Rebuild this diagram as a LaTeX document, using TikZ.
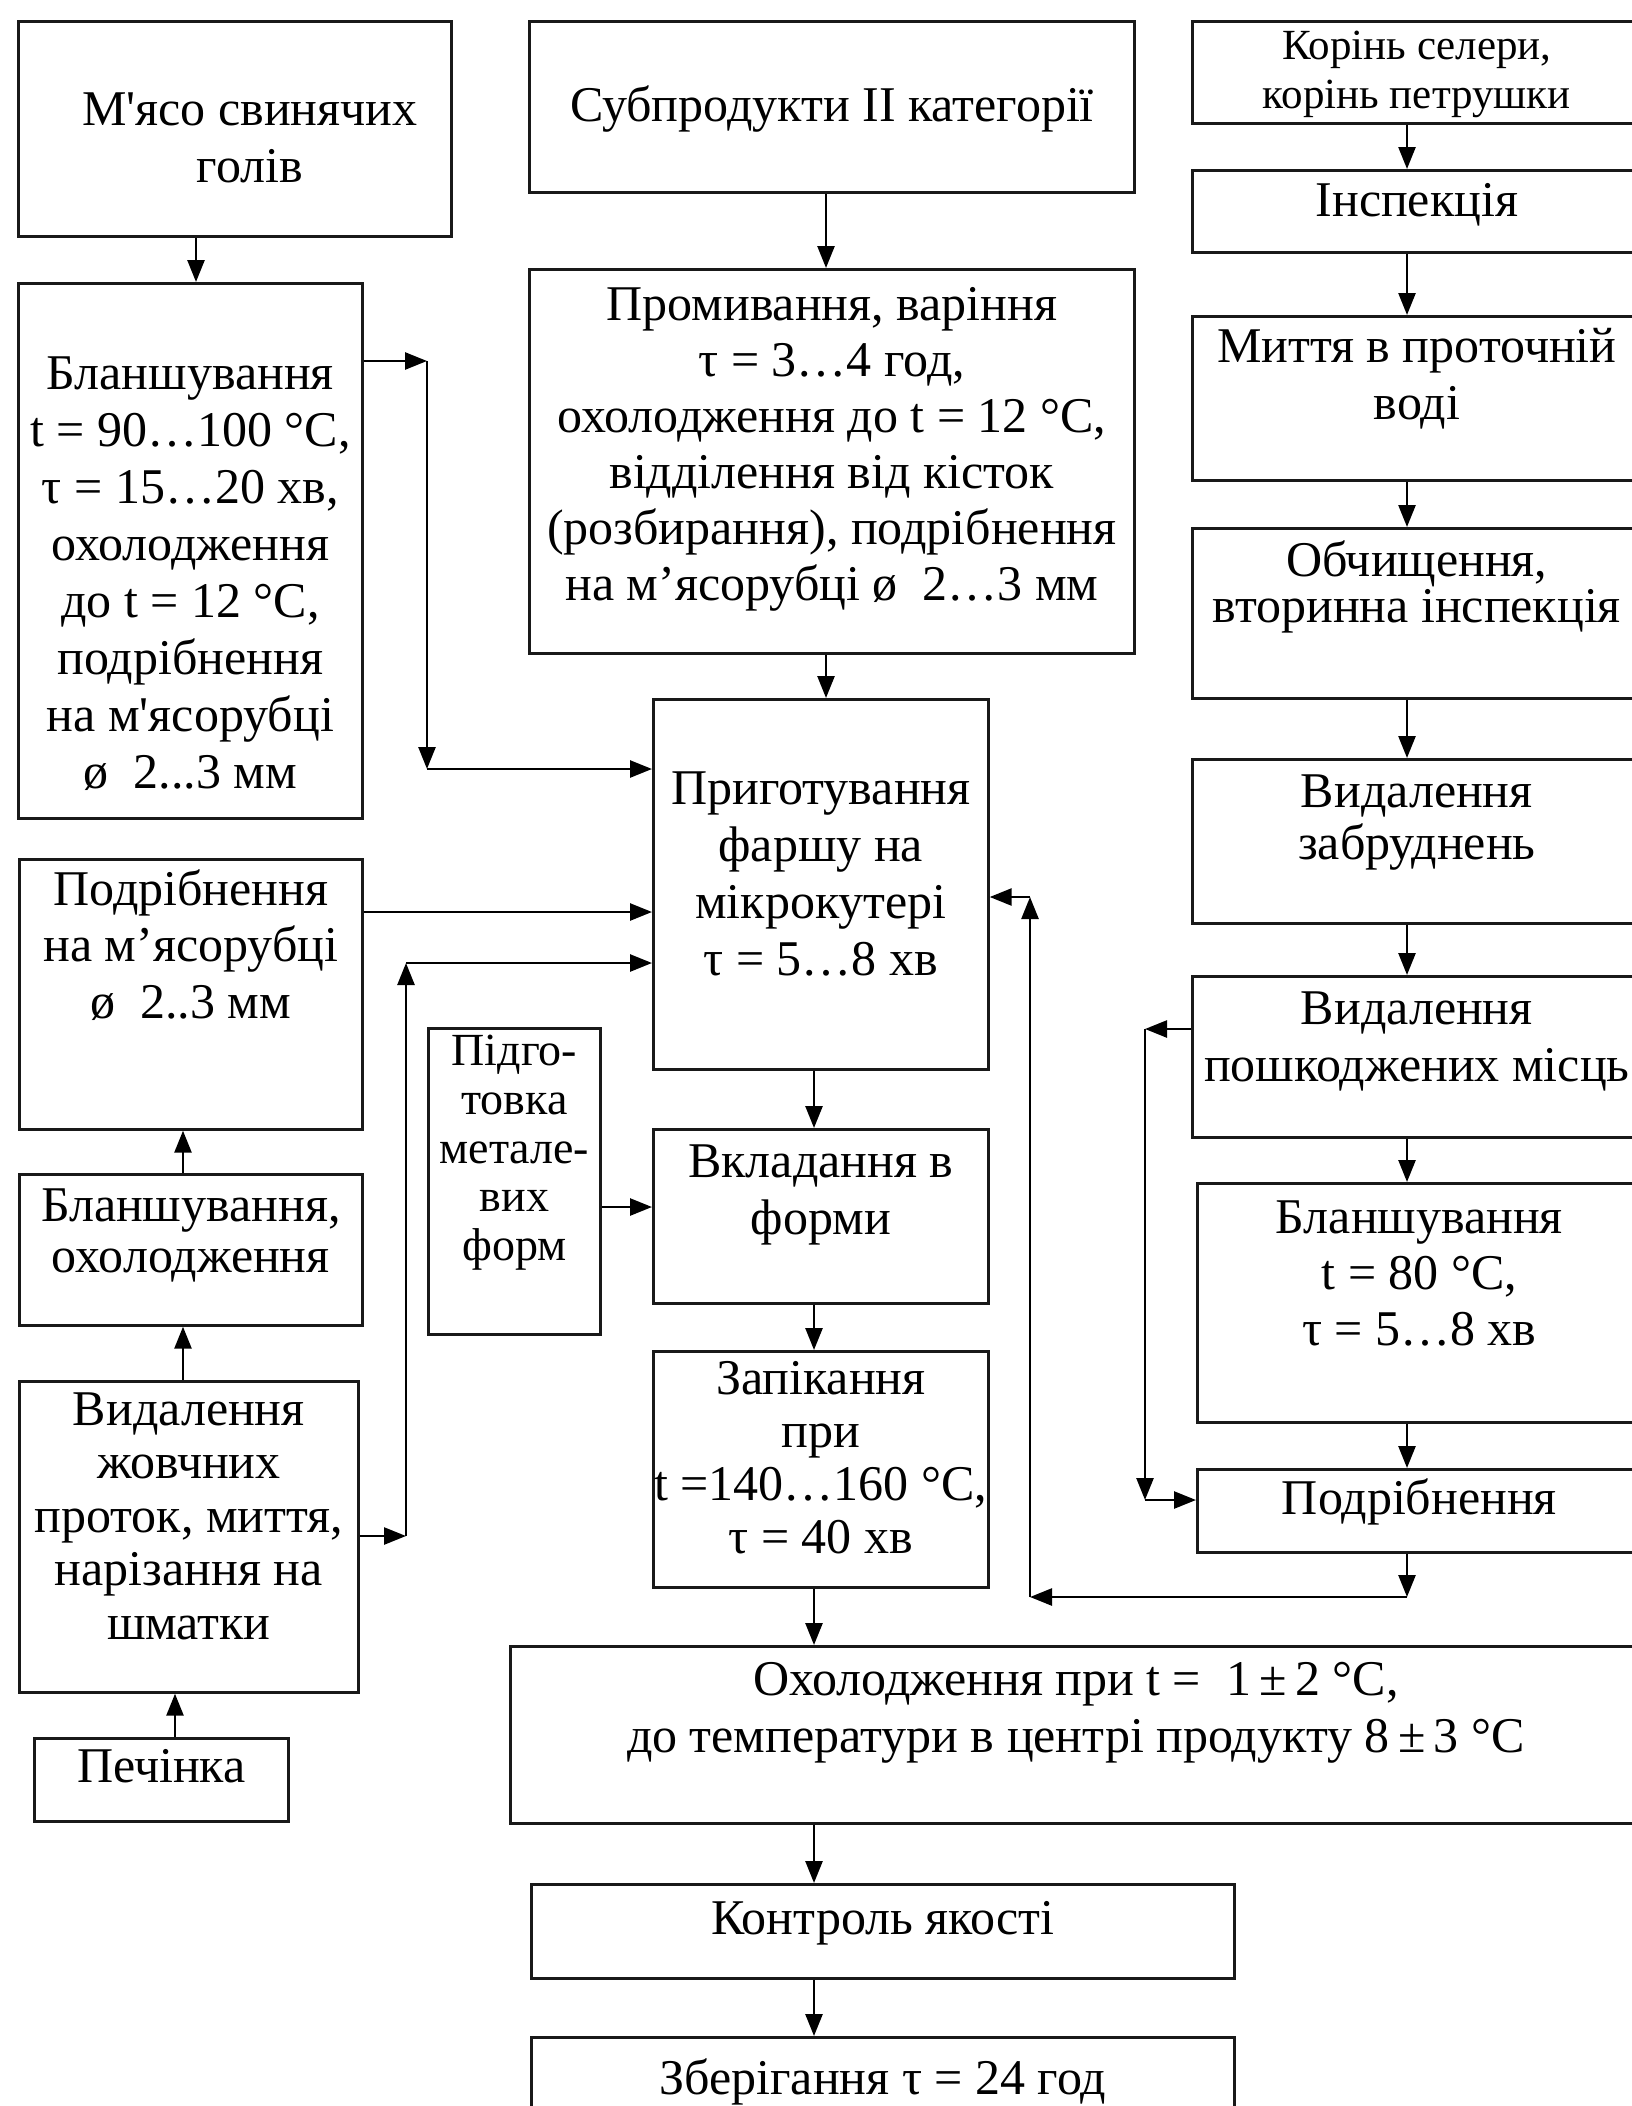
\documentclass[tikz,border=0pt]{standalone}
\usepackage{fontspec}
\setmainfont{Liberation Serif}
\usetikzlibrary{arrows.meta}
\newcommand{\stagefont}{\fontsize{50}{56.5}\selectfont}
\newcommand{\apos}{\textquotesingle}
\tikzset{
  stage/.style n args={3}{rectangle, draw=black!90, line width=2.7pt, inner sep=0pt,
    anchor=north west, font=\stagefont,
    execute at begin node={\begin{minipage}[t][#2pt][t]{#1pt}\centering\lineskiplimit=-\maxdimen
      \vspace*{\dimexpr#3pt-\ht\strutbox\relax}\strut},
    execute at end node={\end{minipage}}},
  arrow/.style={-{Triangle[length=22pt, width=17pt]}, line width=2.6pt, draw=black},
}

\begin{document}
\begin{tikzpicture}[x=1pt, y=-1pt]

  \useasboundingbox (0,0) rectangle (1632,2106);
  \clip (0,0) rectangle (1632,2106);

  % Left column
  \node[stage={433}{215}{104}, font=\fontsize{50}{57.5}\selectfont] (meat) at (17,20)
    {\hspace*{30pt}М\apos ясо свинячих\\\hspace*{30pt}голів};
  \node[stage={344}{535}{106}, font=\fontsize{50}{57}\selectfont] (blanch) at (17,282)
    {Бланшування\\t = 90…100 °C,\\τ = 15…20 хв,\\охолодження\\до t = 12 °C,\\подрібнення\\на м\apos ясорубці\\ø~ 2...3 мм};
  \node[stage={343}{270}{46}] (mince) at (18,858) {Подрібнення\\на м’ясорубці\\ø~ 2..3 мм};
  \node[stage={343}{151}{47}, font=\fontsize{50}{51}\selectfont] (blanchliver) at (18,1173) {Бланшування,\\охолодження};
  \node[stage={339}{311}{44}, font=\fontsize{50}{53.5}\selectfont] (ducts) at (18,1380)
    {Видалення\\жовчних\\проток, миття,\\нарізання на\\шматки};
  \node[stage={254}{83}{44}] (liver) at (33,1737) {Печінка};

  % Middle column
  \node[stage={605}{171}{100}] (offal) at (528,20) {Субпродукти II категорії};
  \node[stage={605}{384}{51}, font=\fontsize{50}{56}\selectfont] (boil) at (528,268)
    {Промивання, варіння\\τ = 3…4 год,\\охолодження до t = 12 °C,\\відділення від кісток\\(розбирання), подрібнення\\на м’ясорубці ø~ 2…3 мм};
  \node[stage={335}{370}{105}, font=\fontsize{50}{57}\selectfont] (cutter) at (652,698)
    {Приготування\\фаршу на\\мікрокутері\\τ = 5…8 хв};
  \node[stage={172}{306}{37.3}, font=\fontsize{46}{48.7}\selectfont] (moulds) at (427,1027)
    {Підго-\\товка\\метале-\\вих\\форм};
  \node[stage={335}{174}{48}, font=\fontsize{50}{57}\selectfont] (filling) at (652,1128) {Вкладання в\\форми};
  \node[stage={335}{236}{43}, font=\fontsize{50}{53}\selectfont] (baking) at (652,1350)
    {Запікання\\при\\t =140…160 °C,\\τ = 40 хв};
  \node[stage={1131}{177}{49}, font=\fontsize{50}{57}\selectfont] (cooling) at (509,1645)
    {Охолодження при t = ~1\,±\,2 °C,\\до температури в центрі продукту 8\,±\,3 °C};
  \node[stage={703}{94}{50}] (quality) at (530,1883) {Контроль якості};
  \node[stage={703}{100}{57}] (storage) at (530,2036) {Зберігання τ = 24 год};

  % Right column
  \node[stage={449}{102}{38.6}, font=\fontsize{43}{49}\selectfont] (roots) at (1191,20) {Корінь селери,\\корінь петрушки};
  \node[stage={449}{82}{46}] (inspect) at (1191,169) {Інспекція};
  \node[stage={449}{164}{46}, font=\fontsize{50}{57}\selectfont] (wash) at (1191,315) {Миття в проточній\\воді};
  \node[stage={449}{170}{45}, font=\fontsize{50}{46}\selectfont] (peel) at (1191,527) {Обчищення,\\вторинна інспекція};
  \node[stage={449}{164}{48}, font=\fontsize{50}{52}\selectfont] (dirt) at (1191,758) {Видалення\\забруднень};
  \node[stage={449}{161}{48}, font=\fontsize{50}{57}\selectfont] (damage) at (1191,975) {Видалення\\пошкоджених місць};
  \node[stage={444}{239}{50}, font=\fontsize{50}{56}\selectfont] (blanchroot) at (1196,1182) {Бланшування\\t = 80 °C,\\τ = 5…8 хв};
  \node[stage={444}{83}{45}] (chop) at (1196,1468) {Подрібнення};

  % Bends and arrow lines
  \coordinate (ac) at (196,0);
  \coordinate (lc) at (183,0);
  \coordinate (fc) at (175,0);
  \coordinate (hc) at (826,0);
  \coordinate (mc) at (814,0);
  \coordinate (rc) at (1407,0);
  \coordinate (b1) at (427,361);
  \coordinate (b2) at (427,769);
  \coordinate (c1) at (0,912);
  \coordinate (e1) at (406,1536);
  \coordinate (e2) at (406,963);
  \coordinate (j1) at (0,1207);
  \coordinate (u1) at (1145,1029);
  \coordinate (u2) at (1145,1500);
  \coordinate (w1) at (1407,1597);
  \coordinate (w2) at (1030,1597);
  \coordinate (w3) at (1030,897);

  % Arrows, left column
  \draw[arrow] (meat.south -| ac) -- (blanch.north -| ac);
  \draw[arrow] (blanch.east |- b1) -- (b1);
  \draw[arrow] (b1) -- (b2);
  \draw[arrow] (b2) -- (cutter.west |- b2);
  \draw[arrow] (mince.east |- c1) -- (cutter.west |- c1);
  \draw[arrow] (blanchliver.north -| lc) -- (mince.south -| lc);
  \draw[arrow] (ducts.north -| lc) -- (blanchliver.south -| lc);
  \draw[arrow] (liver.north -| fc) -- (ducts.south -| fc);
  \draw[arrow] (ducts.east |- e1) -- (e1);
  \draw[arrow] (e1) -- (e2);
  \draw[arrow] (e2) -- (cutter.west |- e2);

  % Arrows, middle column
  \draw[arrow] (moulds.east |- j1) -- (filling.west |- j1);
  \draw[arrow] (offal.south -| hc) -- (boil.north -| hc);
  \draw[arrow] (boil.south -| hc) -- (cutter.north -| hc);
  \draw[arrow] (cutter.south -| mc) -- (filling.north -| mc);
  \draw[arrow] (filling.south -| mc) -- (baking.north -| mc);
  \draw[arrow] (baking.south -| mc) -- (cooling.north -| mc);
  \draw[arrow] (cooling.south -| mc) -- (quality.north -| mc);
  \draw[arrow] (quality.south -| mc) -- (storage.north -| mc);

  % Arrows, right column
  \draw[arrow] (roots.south -| rc) -- (inspect.north -| rc);
  \draw[arrow] (inspect.south -| rc) -- (wash.north -| rc);
  \draw[arrow] (wash.south -| rc) -- (peel.north -| rc);
  \draw[arrow] (peel.south -| rc) -- (dirt.north -| rc);
  \draw[arrow] (dirt.south -| rc) -- (damage.north -| rc);
  \draw[arrow] (damage.south -| rc) -- (blanchroot.north -| rc);
  \draw[arrow] (blanchroot.south -| rc) -- (chop.north -| rc);
  \draw[arrow] (damage.west |- u1) -- (u1);
  \draw[arrow] (u1) -- (u2);
  \draw[arrow] (u2) -- (chop.west |- u2);
  \draw[arrow] (chop.south -| rc) -- (w1);
  \draw[arrow] (w1) -- (w2);
  \draw[arrow] (w2) -- (w3);
  \draw[arrow] (w3) -- (cutter.east |- w3);

\end{tikzpicture}
\end{document}
